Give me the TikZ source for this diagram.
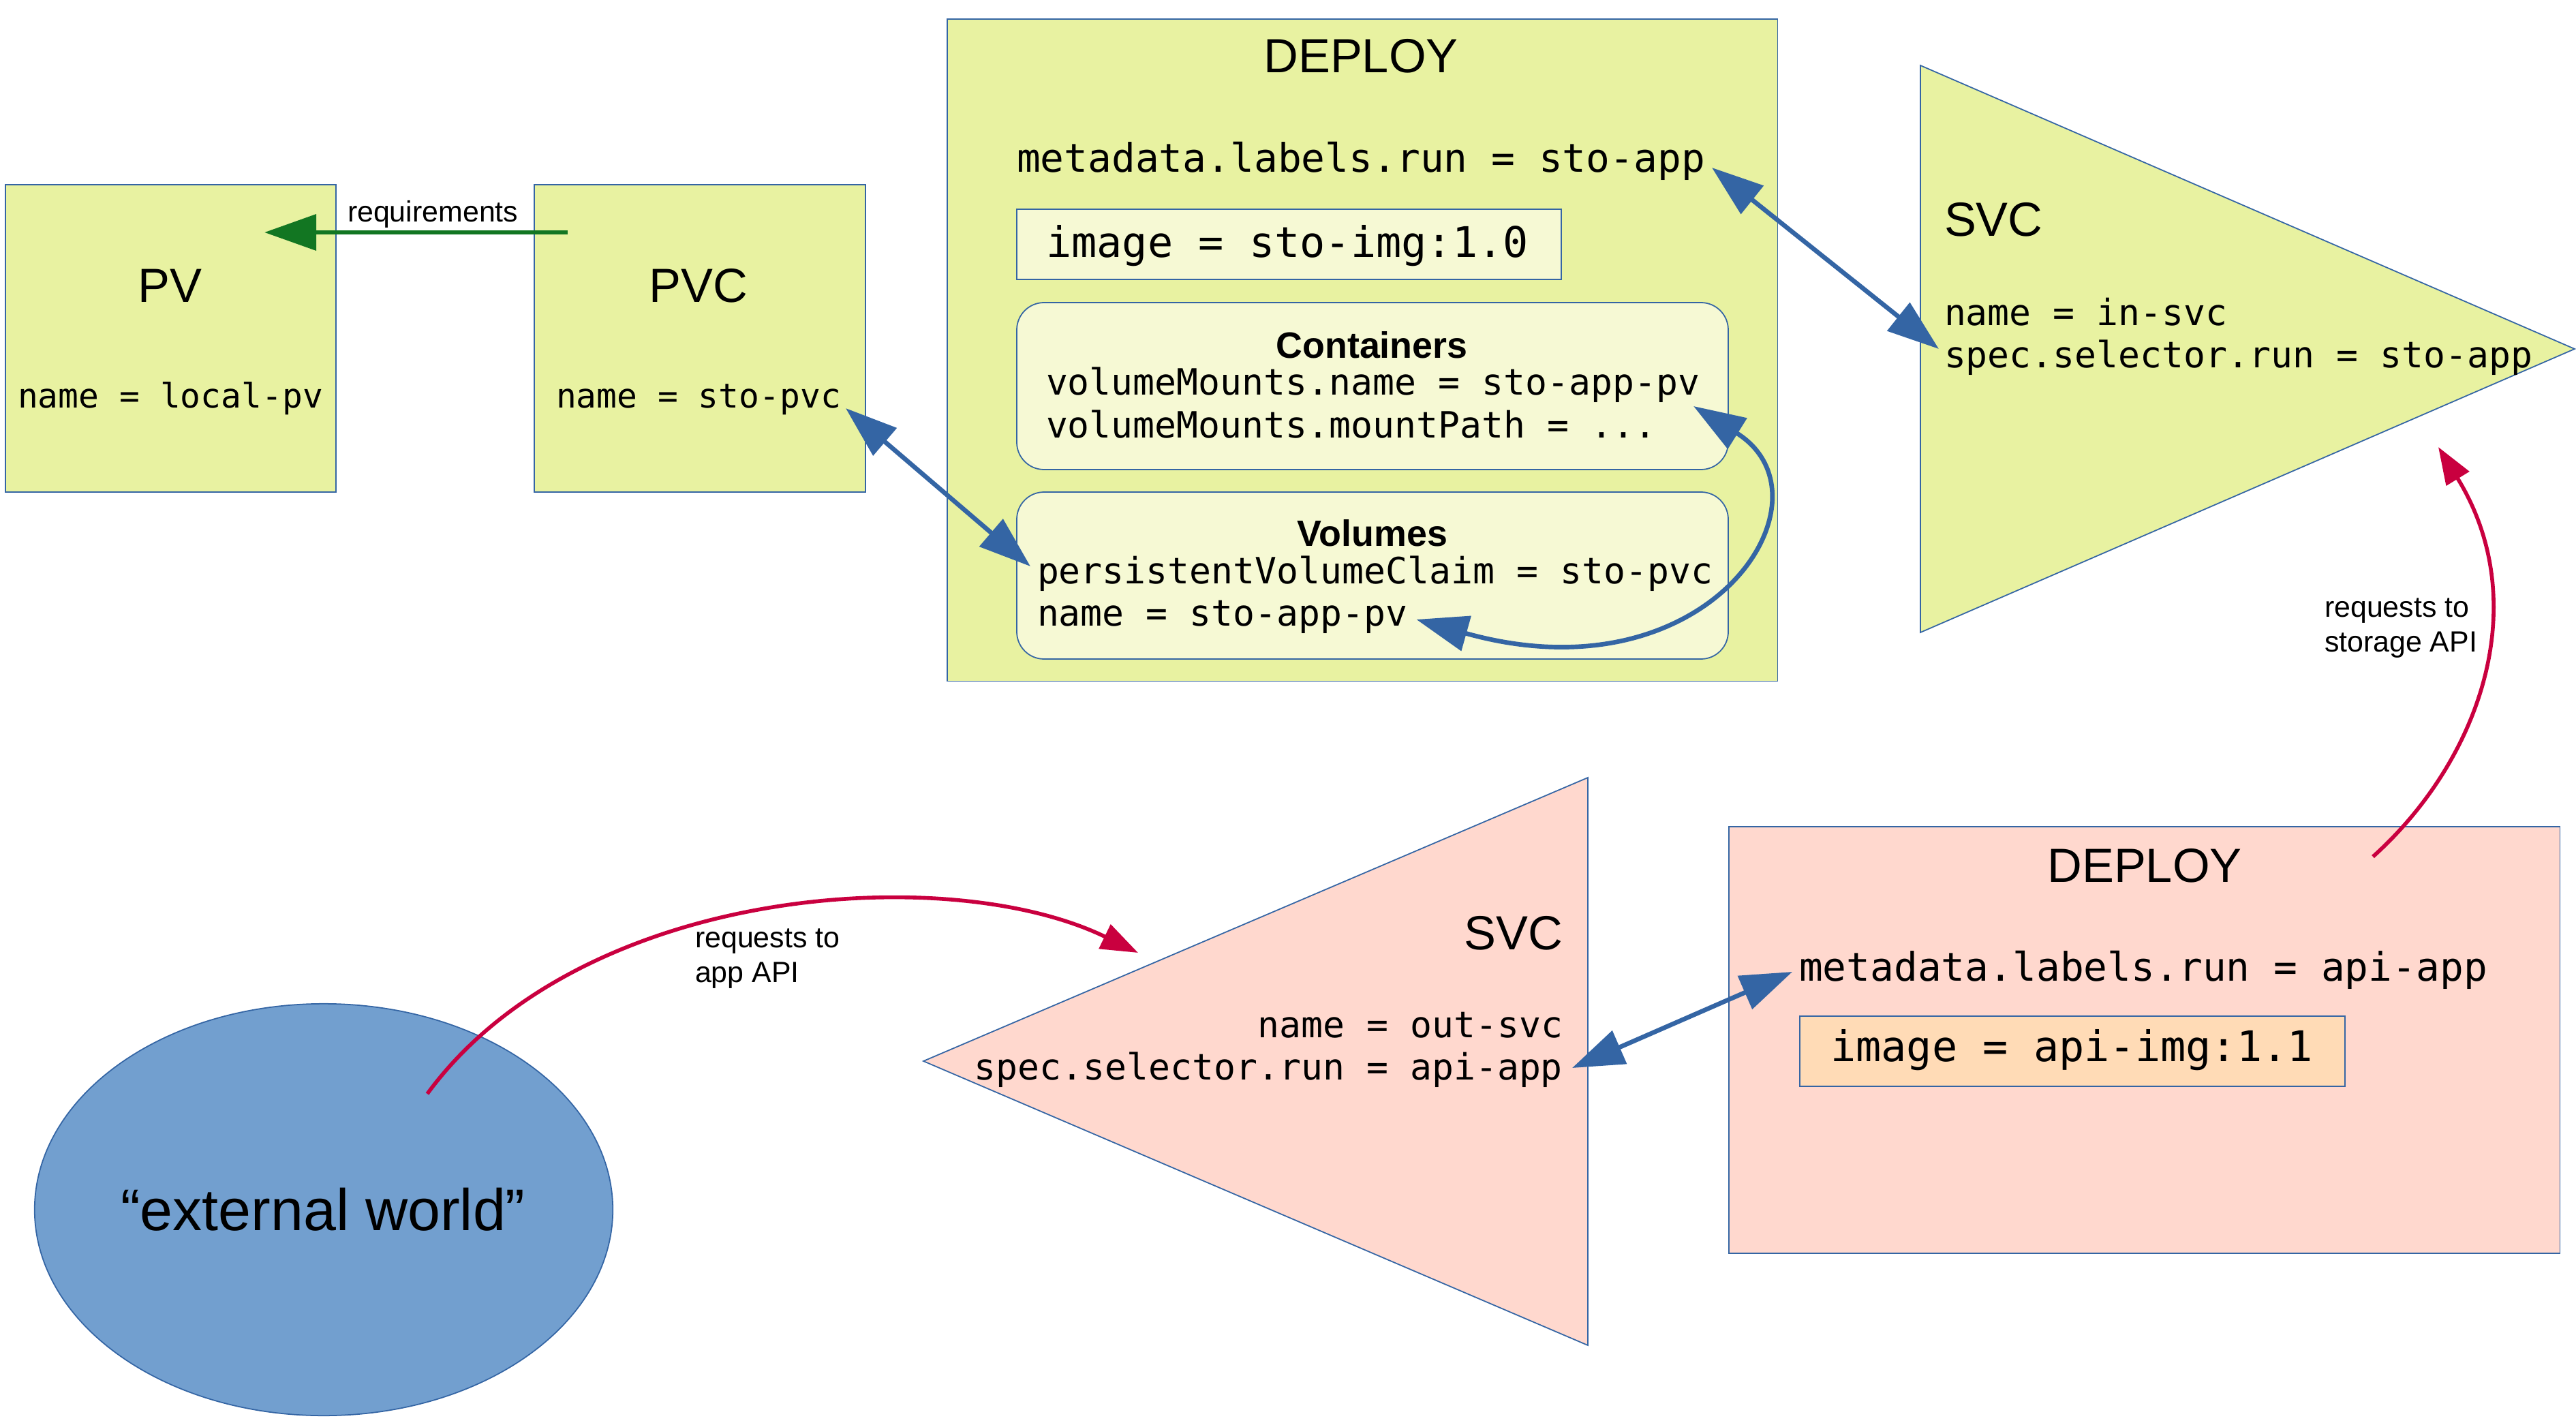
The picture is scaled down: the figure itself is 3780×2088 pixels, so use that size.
\documentclass[tikz,border=0pt]{standalone}
\usepackage{fontspec}
\setmainfont{Liberation Sans}
\newfontfamily\monofont{DejaVu Sans Mono}
\usetikzlibrary{arrows.meta,shapes.geometric,calc}
\definecolor{limefill}{HTML}{E8F2A1}
\definecolor{limelight}{HTML}{F6F9D4}
\definecolor{pinkfill}{HTML}{FFD8CE}
\definecolor{peachfill}{HTML}{FFDBB6}
\definecolor{skyfill}{HTML}{729FCF}
\definecolor{edgeblue}{HTML}{3465A4}
\definecolor{arrowblue}{HTML}{3465A4}
\definecolor{arrowgreen}{HTML}{127622}
\definecolor{arrowred}{HTML}{C9003F}
\tikzset{
  x=0.01cm, y=-0.01cm,
  shapeedge/.style={draw=edgeblue, line width=0.5pt},
  txt/.style={inner sep=0pt, outer sep=0pt},
  titletxt/.style={txt, font=\fontsize{20}{24}\selectfont},
  labeltxt/.style={txt, font=\fontsize{12.2}{14.6}\selectfont},
  boldtxt/.style={txt, font=\fontsize{15.3}{18}\selectfont\bfseries},
  monoS/.style={txt, font=\monofont\fontsize{14.1}{17}\selectfont},
  monoM/.style={txt, font=\monofont\fontsize{15.1}{18}\selectfont},
  monoL/.style={txt, font=\monofont\fontsize{16.45}{19}\selectfont},
  monoXL/.style={txt, font=\monofont\fontsize{17.6}{21}\selectfont},
  bluearr/.style={draw=arrowblue, line width=1.9pt,
    arrows={Triangle[length=21.6pt,width=14.8pt]-Triangle[length=21.6pt,width=14.8pt]}},
  greenarr/.style={draw=arrowgreen, line width=1.9pt,
    arrows={-Triangle[length=21.6pt,width=14.8pt]}},
  redarr/.style={draw=arrowred, line width=1.6pt,
    arrows={-Triangle[length=15.5pt,width=11pt]}},
}
\begin{document}
\begin{tikzpicture}
\useasboundingbox (0,0) rectangle (3780,2088);

% ---- boxes and shapes ----
\node[shapeedge, fill=limefill, anchor=north west, minimum width=4.85cm, minimum height=4.51cm, inner sep=0pt] (pvbox) at (7,270) {};
\node[shapeedge, fill=limefill, anchor=north west, minimum width=4.86cm, minimum height=4.51cm, inner sep=0pt] (pvcbox) at (783,270) {};
\node[shapeedge, fill=limefill, anchor=north west, minimum width=12.18cm, minimum height=9.71cm, inner sep=0pt] (deploytop) at (1389,27) {};
\draw[shapeedge, fill=limelight] (1492,307) rectangle (2291,410);
\draw[shapeedge, fill=limelight, rounded corners=0.4cm] (1492,444) rectangle (2536,689);
\draw[shapeedge, fill=limelight, rounded corners=0.4cm] (1492,722) rectangle (2536,967);
\draw[shapeedge, fill=limefill] (2818,96) -- (2818,928) -- (3778,512) -- cycle;
\draw[shapeedge, fill=pinkfill] (2330,1141) -- (2330,1974) -- (1355,1557) -- cycle;
\node[shapeedge, fill=pinkfill, anchor=north west, minimum width=12.19cm, minimum height=6.26cm, inner sep=0pt] (deploybot) at (2536,1212) {};
\draw[shapeedge, fill=peachfill] (2641,1491) rectangle (3441,1594);
\node[shapeedge, fill=skyfill, ellipse, minimum width=8.48cm, minimum height=6.04cm, inner sep=0pt] (world) at (475,1775) {};

% ---- texts ----
\node[titletxt, anchor=base] (pvtitle) at (249,443) {PV};
\node[monoS, anchor=base] (pvname) at (250,598) {name = local-pv};
\node[titletxt, anchor=base] (pvctitle) at (1025,443) {PVC};
\node[monoS, anchor=base] (pvcname) at (1025,598) {name = sto-pvc};
\node[labeltxt, anchor=base west] (reqlabel) at (510,326) {requirements};

\node[titletxt, anchor=base] (deploy1) at (1997,107) {DEPLOY};
\node[monoL, anchor=base west] (meta1) at (1492,252) {metadata.labels.run = sto-app};
\node[monoXL, anchor=base west] (img1) at (1535,377) {image = sto-img:1.0};
\node[boldtxt, anchor=base] (conttitle) at (2013,525) {Containers};
\node[monoM, anchor=base west] (vm1) at (1535,579) {volumeMounts.name = sto-app-pv};
\node[monoM, anchor=base west] (vm2) at (1535,642) {volumeMounts.mountPath = ...};
\node[boldtxt, anchor=base] (voltitle) at (2014,801) {Volumes};
\node[monoM, anchor=base west] (pvcl) at (1522,856) {persistentVolumeClaim = sto-pvc};
\node[monoM, anchor=base west] (vname) at (1522,918) {name = sto-app-pv};

\node[titletxt, anchor=base west] (svc1) at (2853,347) {SVC};
\node[monoM, anchor=base west] (svcname1) at (2853,477) {name = in-svc};
\node[monoM, anchor=base west] (sel1) at (2853,539) {spec.selector.run = sto-app};
\node[labeltxt, anchor=base west] (req2a) at (3411,905) {requests to};
\node[labeltxt, anchor=base west] (req2b) at (3411,956) {storage API};

\node[titletxt, anchor=base east] (svc2) at (2293,1393) {SVC};
\node[monoM, anchor=base east] (svcname2) at (2293,1522) {name = out-svc};
\node[monoM, anchor=base east] (sel2) at (2293,1584) {spec.selector.run = api-app};
\node[labeltxt, anchor=base west] (req1a) at (1020,1390) {requests to};
\node[labeltxt, anchor=base west] (req1b) at (1020,1441) {app API};

\node[titletxt, anchor=base] (deploy2) at (3147,1294) {DEPLOY};
\node[monoL, anchor=base west] (meta2) at (2640,1439) {metadata.labels.run = api-app};
\node[monoXL, anchor=base west] (img2) at (2686,1557) {image = api-img:1.1};

\node[txt, font=\fontsize{24.5}{29}\selectfont, anchor=base] (worldtxt) at (474,1805) {“external world”};

% ---- connectors ----
\coordinate (svcTopTip) at (3578,656);
\coordinate (svcBotTip) at (1670,1398);

\draw[greenarr] ($(pvcbox.north west)+(50,71)$) -- ($(pvbox.north east)+(-106,71)$);
\draw[bluearr] ($(pvcname.base east)+(7,1)$) -- ($(pvcl.base west)+(-10,-25)$);
\draw[bluearr] ($(meta1.base east)+(10,-6)$) -- ($(sel1.base west)+(-8,-27)$);
\draw[bluearr] ($(vm1.base east)+(-9,17)$) .. controls (2700,730) and (2510,1030) .. ($(vname.base east)+(13,-9)$);
\draw[bluearr] ($(sel2.base east)+(14,-17)$) -- ($(meta2.base west)+(-10,-13)$);
\draw[redarr] ($(deploybot.north west)+(946,45)$) .. controls (3640,1115) and (3719,885) .. (svcTopTip);
\draw[redarr] ($(world.center)+(152,-170)$) .. controls (850,1300) and (1390,1262) .. (svcBotTip);
\end{tikzpicture}
\end{document}
